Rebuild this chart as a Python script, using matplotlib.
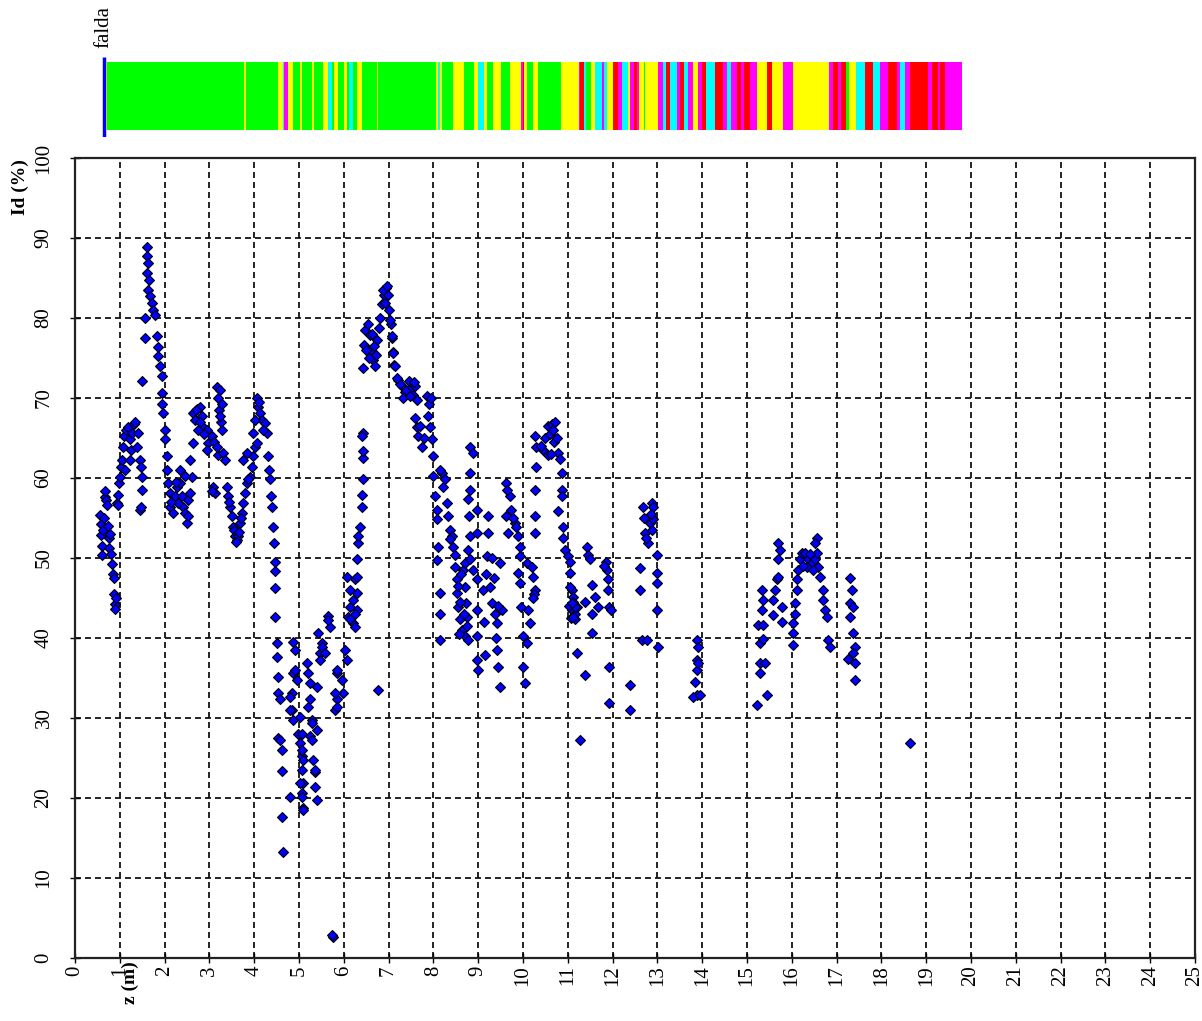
import matplotlib
matplotlib.use("Agg")
import matplotlib.pyplot as plt

# CPT log: depth z (m) and relative density Id (%), grouped by depth interval
pts_0_2 = [(0.56, 55.3), (0.58, 54.2), (0.59, 52.8), (0.60, 51.5), (0.61, 50.3), (0.63, 53.5), (0.65, 55.0),
           (0.66, 57.6), (0.68, 58.3), (0.70, 57.2), (0.72, 56.6), (0.73, 54.0), (0.75, 52.5), (0.76, 51.2),
           (0.78, 53.0), (0.80, 50.5), (0.82, 49.2), (0.84, 48.0), (0.86, 47.5), (0.88, 45.5), (0.89, 44.2),
           (0.90, 43.6), (0.91, 45.0), (0.93, 56.8), (0.95, 57.8), (0.97, 56.6),
           (0.99, 59.4), (1.00, 60.1), (1.03, 61.4), (1.06, 62.2), (1.08, 63.9), (1.10, 65.2), (1.12, 61.0),
           (1.13, 66.0), (1.18, 66.4), (1.22, 64.8), (1.24, 63.5), (1.22, 62.2), (1.28, 65.6), (1.32, 66.8),
           (1.35, 67.0), (1.39, 63.9), (1.41, 65.6), (1.44, 62.2), (1.47, 61.4), (1.50, 58.5), (1.50, 60.1),
           (1.45, 56.0), (1.47, 56.4), (1.50, 72.1), (1.56, 80.0), (1.56, 77.5),
           (1.61, 88.9), (1.61, 87.7), (1.63, 86.9), (1.61, 85.6), (1.65, 84.8), (1.63, 83.5), (1.67, 82.7),
           (1.72, 81.9), (1.74, 81.0), (1.79, 80.4), (1.83, 77.7), (1.85, 76.4), (1.85, 75.2), (1.90, 74.0),
           (1.94, 72.7), (1.94, 70.6), (1.94, 69.3), (1.96, 68.1), (2.01, 66.0), (2.01, 64.8), (2.05, 62.7)]

pts_2_5 = [(2.05, 61.0), (2.08, 59.4), (2.12, 58.1), (2.12, 56.4), (2.19, 55.6), (2.23, 57.7), (2.28, 58.9),
           (2.34, 61.0), (2.34, 59.4), (2.39, 57.7), (2.41, 56.4), (2.46, 55.6), (2.50, 54.3), (2.52, 57.2),
           (2.57, 58.1), (2.61, 60.1), (2.57, 62.2), (2.52, 55.2), (2.30, 56.9), (2.15, 57.0), (2.25, 59.5),
           (2.45, 60.2),
           (2.63, 68.1), (2.68, 67.3), (2.72, 68.6), (2.79, 68.9), (2.83, 67.7), (2.85, 66.4), (2.74, 66.0),
           (2.63, 64.4), (2.94, 66.0), (2.96, 64.4), (2.94, 63.5), (3.06, 65.2), (3.08, 58.9), (3.12, 58.1),
           (3.05, 58.3), (2.70, 68.5), (2.80, 67.0), (2.88, 65.5),
           (3.10, 64.5), (3.20, 62.8), (3.17, 71.4), (3.20, 70.0), (3.22, 68.5), (3.25, 67.0), (3.24, 71.0),
           (3.28, 69.3), (3.24, 67.7), (3.28, 66.0), (3.17, 63.9), (3.30, 63.1), (3.35, 62.2),
           (3.39, 58.9), (3.41, 57.7), (3.46, 56.4), (3.50, 55.2), (3.53, 53.9), (3.57, 52.7), (3.62, 52.2),
           (3.64, 52.7), (3.68, 54.3), (3.73, 55.6), (3.75, 56.9), (3.79, 58.1), (3.84, 59.4), (3.91, 60.1),
           (3.95, 61.4), (3.97, 62.7), (4.02, 63.9), (3.44, 57.0), (3.55, 53.5), (3.60, 52.0), (3.66, 53.2),
           (3.71, 55.0), (3.75, 62.2), (3.84, 63.1), (3.86, 59.8),
           (4.06, 70.0), (4.08, 68.9), (4.13, 68.1), (4.17, 67.3), (4.24, 66.9), (4.29, 65.6), (4.02, 67.3),
           (3.97, 65.6), (4.06, 64.4), (4.10, 69.5), (4.20, 66.0),
           (4.31, 62.7), (4.33, 61.0), (4.35, 59.8), (4.38, 57.7), (4.40, 56.4), (4.42, 53.9), (4.44, 51.9),
           (4.46, 49.5), (4.46, 48.3), (4.46, 46.2), (4.46, 42.6), (4.51, 39.4), (4.51, 37.6), (4.53, 35.1),
           (4.53, 33.1), (4.58, 32.3), (4.53, 27.5), (4.58, 27.2), (4.62, 26.0), (4.62, 23.3), (4.62, 17.6),
           (4.64, 13.2), (4.80, 20.1)]

pts_5_6 = [(4.87, 39.5), (4.91, 38.5), (4.87, 35.6), (4.96, 34.7), (4.85, 33.1), (4.85, 31.0), (4.87, 29.7),
           (4.98, 28.0), (5.02, 26.8), (5.07, 25.2), (5.07, 23.5), (5.09, 21.8), (5.07, 20.6), (5.09, 18.7),
           (4.91, 36.0), (4.80, 32.6), (4.80, 31.0), (5.02, 30.1), (5.07, 28.0), (5.07, 26.0), (5.09, 24.7),
           (5.02, 21.8), (5.07, 20.1), (5.09, 18.5),
           (5.18, 36.8), (5.20, 35.6), (5.25, 34.3), (5.40, 33.9), (5.25, 32.3), (5.29, 29.7), (5.25, 27.7),
           (5.31, 24.7), (5.36, 23.2), (5.36, 21.4), (5.40, 19.7), (5.20, 31.4), (5.29, 29.3), (5.40, 28.5),
           (5.29, 27.2), (5.36, 23.5),
           (5.42, 40.6), (5.51, 39.3), (5.47, 38.1), (5.65, 42.7), (5.69, 41.4), (5.65, 42.2), (5.51, 38.9),
           (5.47, 37.2), (5.58, 38.1),
           (5.85, 35.6), (5.96, 34.7), (5.98, 33.1), (5.85, 32.3), (5.80, 31.0), (5.80, 33.1), (5.85, 31.4),
           (5.85, 36.0), (6.03, 38.5), (6.07, 37.2),
           (5.76, 2.6), (5.74, 2.9), (6.76, 33.5),
           (6.07, 47.6), (6.14, 46.0), (6.14, 43.9), (6.09, 42.6), (6.20, 41.8), (6.25, 47.3), (6.29, 45.6),
           (6.29, 43.5), (6.20, 44.7), (6.25, 43.0), (6.14, 42.3), (6.29, 47.6), (6.25, 41.4),
           (6.29, 49.8), (6.32, 51.9), (6.32, 52.7), (6.36, 53.9), (6.41, 56.4), (6.41, 57.9), (6.43, 59.8),
           (6.43, 62.5), (6.43, 63.3), (6.43, 65.6), (6.41, 65.2)]

pts_6_8 = [(6.43, 73.8), (6.45, 76.6), (6.47, 78.5), (6.54, 79.2), (6.59, 77.9), (6.61, 76.0), (6.65, 74.8),
           (6.72, 75.4), (6.74, 77.3), (6.79, 78.8), (6.81, 80.0), (6.85, 81.7), (6.90, 82.9), (6.94, 83.8),
           (6.99, 82.9), (7.01, 81.0), (7.05, 79.2), (7.08, 77.5), (7.10, 75.8), (7.12, 74.1),
           (6.92, 81.9), (7.03, 79.8), (7.07, 77.7), (7.10, 75.6), (7.14, 74.0), (6.50, 76.0), (6.56, 75.0),
           (6.63, 78.0), (6.68, 76.5), (6.70, 74.0), (6.88, 83.5), (6.96, 84.0),
           (7.21, 72.3), (7.30, 71.5), (7.37, 70.8), (7.25, 71.7), (7.38, 71.0), (7.45, 72.1), (7.52, 71.4),
           (7.54, 70.4), (7.32, 70.0), (7.48, 70.2), (7.63, 69.8), (7.18, 72.5), (7.60, 71.5), (7.56, 72.0),
           (7.59, 67.5), (7.63, 66.3), (7.66, 65.2), (7.74, 63.9), (7.86, 70.2), (7.90, 69.3), (7.88, 67.7),
           (7.92, 66.4), (7.97, 64.8), (7.70, 66.5), (7.80, 65.0), (7.95, 70.0),
           (8.00, 62.7), (8.00, 60.2), (8.04, 57.7), (8.08, 56.0), (8.08, 54.8), (8.19, 60.6), (8.21, 58.9),
           (8.30, 56.9), (8.32, 55.2), (8.37, 53.5), (8.41, 52.7), (8.44, 51.4), (8.10, 51.4), (8.08, 49.7),
           (8.15, 45.6), (8.15, 43.0), (8.15, 39.7), (8.15, 61.0), (8.26, 59.8), (8.37, 52.3), (8.48, 50.4)]

pts_8_11 = [(8.48, 48.9), (8.53, 47.3), (8.53, 45.6), (8.55, 43.9), (8.59, 42.3), (8.64, 41.0), (8.71, 40.2),
            (8.77, 39.7), (8.66, 48.5), (8.71, 46.4), (8.73, 44.3), (8.75, 42.6), (8.71, 49.4), (8.77, 51.0),
            (8.82, 49.8), (8.88, 48.5), (8.97, 47.3),
            (8.82, 63.9), (8.88, 63.1), (8.82, 60.6), (8.82, 58.5), (8.77, 57.3), (8.79, 55.2), (8.82, 52.7),
            (8.97, 53.1), (8.97, 56.0), (8.97, 43.5), (8.97, 40.2), (8.97, 37.2), (8.99, 36.0),
            (8.56, 46.5), (8.60, 44.5), (8.62, 48.0), (8.68, 43.0), (8.74, 41.5), (8.58, 40.5),
            (9.15, 37.9), (9.20, 50.2), (9.22, 55.2), (9.22, 53.1), (9.26, 46.4), (9.31, 44.3), (9.38, 43.0),
            (9.42, 41.8), (9.42, 38.5), (9.44, 36.4), (9.49, 33.9), (9.49, 49.3), (9.53, 43.5), (9.10, 46.0),
            (9.12, 42.0), (9.18, 48.0), (9.30, 50.0), (9.35, 47.5), (9.40, 40.0), (9.45, 44.0),
            (9.62, 59.3), (9.71, 57.7), (9.73, 56.0), (9.82, 54.3), (9.84, 53.9), (9.89, 52.7), (9.93, 51.4),
            (9.93, 50.2), (9.89, 48.1), (9.93, 46.8), (9.96, 43.9), (10.00, 40.2), (10.00, 36.4), (10.04, 34.3),
            (9.62, 55.2), (9.67, 53.1), (9.65, 58.5), (9.78, 55.0),
            (10.09, 49.3), (10.20, 48.9), (10.22, 47.6), (10.27, 46.0), (10.11, 43.5), (10.16, 41.8),
            (10.09, 39.4), (10.25, 45.5), (10.22, 45.0),
            (10.27, 65.2), (10.29, 63.9), (10.29, 61.4), (10.27, 58.5), (10.27, 55.2), (10.27, 53.1),
            (10.45, 63.5), (10.50, 65.0), (10.55, 66.5), (10.60, 65.5), (10.65, 66.8), (10.70, 64.5),
            (10.72, 67.0), (10.75, 65.0), (10.78, 63.1), (10.55, 62.8), (10.40, 64.0), (10.62, 63.0),
            (10.68, 66.0),
            (10.83, 62.3), (10.88, 60.6), (10.88, 58.5), (10.88, 57.7), (10.79, 55.8), (10.90, 53.9),
            (10.90, 52.5), (10.94, 51.0), (11.00, 50.2), (11.05, 49.5), (11.05, 48.1)]

pts_11_14 = [(11.09, 46.0), (11.12, 45.1), (11.09, 43.5), (11.16, 43.0), (11.20, 43.9), (11.16, 42.3),
             (11.20, 38.1), (11.38, 35.4), (11.27, 27.2), (11.02, 44.0), (11.07, 42.5), (11.12, 44.5),
             (11.15, 43.8), (11.05, 46.4), (11.09, 44.3), (11.12, 42.6),
             (11.38, 44.5), (11.54, 46.6), (11.54, 43.0), (11.54, 40.6), (11.43, 51.4), (11.45, 50.4),
             (11.50, 49.8), (11.61, 45.1), (11.68, 43.9),
             (11.85, 49.5), (11.87, 48.5), (11.89, 47.3), (11.89, 46.0), (11.92, 43.8), (11.96, 43.5),
             (11.92, 36.4), (11.92, 31.8), (12.39, 34.1), (12.39, 31.0), (11.80, 49.0),
             (12.61, 48.7), (12.61, 46.0), (12.66, 39.7), (12.77, 39.7), (12.68, 56.4), (12.77, 54.8),
             (12.83, 54.3), (12.88, 56.9), (12.90, 56.4), (12.90, 54.8), (12.72, 53.1), (12.79, 51.8),
             (12.88, 53.5), (12.99, 50.4), (12.99, 48.1), (12.99, 46.8), (12.99, 43.5), (13.01, 38.9),
             (12.70, 55.0), (12.75, 52.5), (12.85, 55.5),
             (13.88, 39.7), (13.91, 38.9), (13.88, 37.2), (13.88, 36.0), (13.84, 34.5), (13.88, 32.9),
             (13.80, 32.6), (13.95, 32.9), (13.91, 36.8)]

pts_15_19 = [(15.22, 31.6), (15.45, 32.9), (15.29, 35.6), (15.29, 36.8), (15.40, 36.8), (15.29, 39.3),
             (15.36, 39.9), (15.25, 41.6), (15.36, 41.6), (15.34, 43.5), (15.36, 44.7), (15.34, 46.0),
             (15.58, 42.8), (15.78, 42.0), (15.78, 43.9), (15.58, 44.7), (15.63, 46.0), (15.67, 47.3),
             (15.70, 47.6), (15.70, 49.8), (15.74, 51.0), (15.70, 51.9),
             (16.03, 39.1), (16.03, 40.6), (16.03, 41.8), (16.07, 43.0), (16.07, 44.3), (16.12, 46.0),
             (16.12, 47.3), (16.14, 48.5), (16.18, 49.8), (16.23, 50.6), (16.29, 50.6), (16.36, 49.8),
             (16.44, 49.3), (16.52, 49.8), (16.56, 50.6), (16.56, 52.5), (16.52, 51.9), (16.34, 48.9),
             (16.58, 48.9), (16.63, 47.6), (16.70, 46.0), (16.70, 44.7), (16.74, 43.5), (16.79, 42.6),
             (16.81, 39.7), (16.85, 38.8), (16.25, 49.0), (16.40, 50.5), (16.48, 48.5),
             (17.30, 47.5), (17.34, 46.0), (17.30, 44.3), (17.36, 43.9), (17.30, 42.6), (17.36, 40.6),
             (17.41, 38.9), (17.36, 38.1), (17.25, 37.4), (17.41, 36.8), (17.41, 34.7), (18.64, 26.8)]

# soil classification strip: top of each layer (m) and its class code
strip_top = [0.67, 0.72, 3.78, 3.82, 4.54, 4.64, 4.67, 4.76, 4.87, 5.02, 5.07, 5.30, 5.34, 5.54, 5.65,
             5.73, 5.78, 5.88, 6.01, 6.08, 6.12, 6.21, 6.29, 6.41, 6.73, 6.77, 8.06, 8.11, 8.15, 8.20,
             8.43, 8.68, 8.91, 9.00, 9.14, 9.19, 9.32, 9.52, 9.72, 9.95, 9.99, 10.03, 10.10, 10.22, 10.33,
             10.84, 11.24, 11.27, 11.37, 11.40, 11.51, 11.61, 11.76, 11.81, 11.87, 12.00, 12.13, 12.22,
             12.35, 12.39, 12.48, 12.55, 12.60, 12.69, 12.72, 13.02, 13.12, 13.19, 13.28, 13.43, 13.50,
             13.59, 13.69, 13.79, 13.91, 13.99, 14.08, 14.29, 14.46, 14.55, 14.64, 14.78, 14.86, 14.93,
             15.07, 15.22, 15.44, 15.55, 15.81, 16.02, 16.82, 16.93, 17.04, 17.10, 17.21, 17.27, 17.43,
             17.63, 17.82, 17.97, 18.15, 18.34, 18.42, 18.53, 18.64, 19.05, 19.12, 19.27, 19.31, 19.42]
strip_class = ("YGYGYCMYGYGYGYCGYGYGCGYGYGYCYGYGYCYGYGYMRYGYG"
               "YMRCGYCMCYRMCYMRMYGYMCRCMRCMYMRCRMCMRMRMYRYMYMRMRGYCRCMRMCMRMRMRM")
strip_bottom = 19.81
water_table = 0.65

class_colors = {"G": "#00ff00", "Y": "#ffff00", "C": "#00ffff", "M": "#ff00ff", "R": "#ff0000"}

all_pts = pts_0_2 + pts_2_5 + pts_5_6 + pts_6_8 + pts_8_11 + pts_11_14 + pts_15_19
z = [p[0] for p in all_pts]
id_pct = [p[1] for p in all_pts]

plt.rcParams["font.family"] = ["Liberation Serif", "DejaVu Serif"]
plt.rcParams["lines.scale_dashes"] = False

W, H = 1202, 1021
fig = plt.figure(figsize=(W / 100, H / 100), dpi=100)

# main scatter
ax = fig.add_axes([75 / W, (H - 957.7) / H, 1120 / W, 799.7 / H])
ax.plot(z, id_pct, linestyle="none", marker="D", markersize=5.5, markerfacecolor="#0000ff",
        markeredgecolor="black", markeredgewidth=0.8, zorder=3)
ax.set_xlim(0, 25)
ax.set_ylim(0, 100)
ax.set_xticks(range(0, 26))
ax.set_yticks(range(0, 101, 10))
ax.grid(True, color="#111111", linestyle=(0, (4.3, 2.9)), linewidth=1.3)
for s in ax.spines.values():
    s.set_linewidth(1.6)
    s.set_color("#222222")
ax.tick_params(axis="both", direction="inout", length=7, width=1, labelsize=15)
ax.tick_params(axis="x", pad=2, labelrotation=90)
ax.tick_params(axis="y", pad=12, labelrotation=90)
for lab in ax.get_yticklabels():
    lab.set_verticalalignment("center")

fig.text(20 / W, 1 - 187 / H, "Id (%)", rotation=90, ha="center", va="center",
         fontsize=14, fontweight="bold")
fig.text(130 / W, 1 - 983 / H, "z (m)", rotation=90, ha="center", va="center",
         fontsize=14, fontweight="bold")

# classification strip above the plot
ax_top = fig.add_axes([75 / W, (H - 137) / H, 1120 / W, 80 / H])
ax_top.set_xlim(0, 25)
ax_top.set_ylim(0, 1)
ax_top.axis("off")
bounds = strip_top + [strip_bottom]
for i, code in enumerate(strip_class):
    ax_top.broken_barh([(bounds[i], bounds[i + 1] - bounds[i])], (0.0875, 0.85),
                       facecolors=class_colors[code], edgecolor="none")
ax_top.plot([water_table, water_table], [0, 1], color="#0000ff", linewidth=2.5,
            solid_capstyle="butt")
ax_top.text(water_table, 1.11, "falda", rotation=90, ha="center", va="bottom",
            fontsize=15, transform=ax_top.get_xaxis_transform())

fig.savefig("out.png", dpi=100)
